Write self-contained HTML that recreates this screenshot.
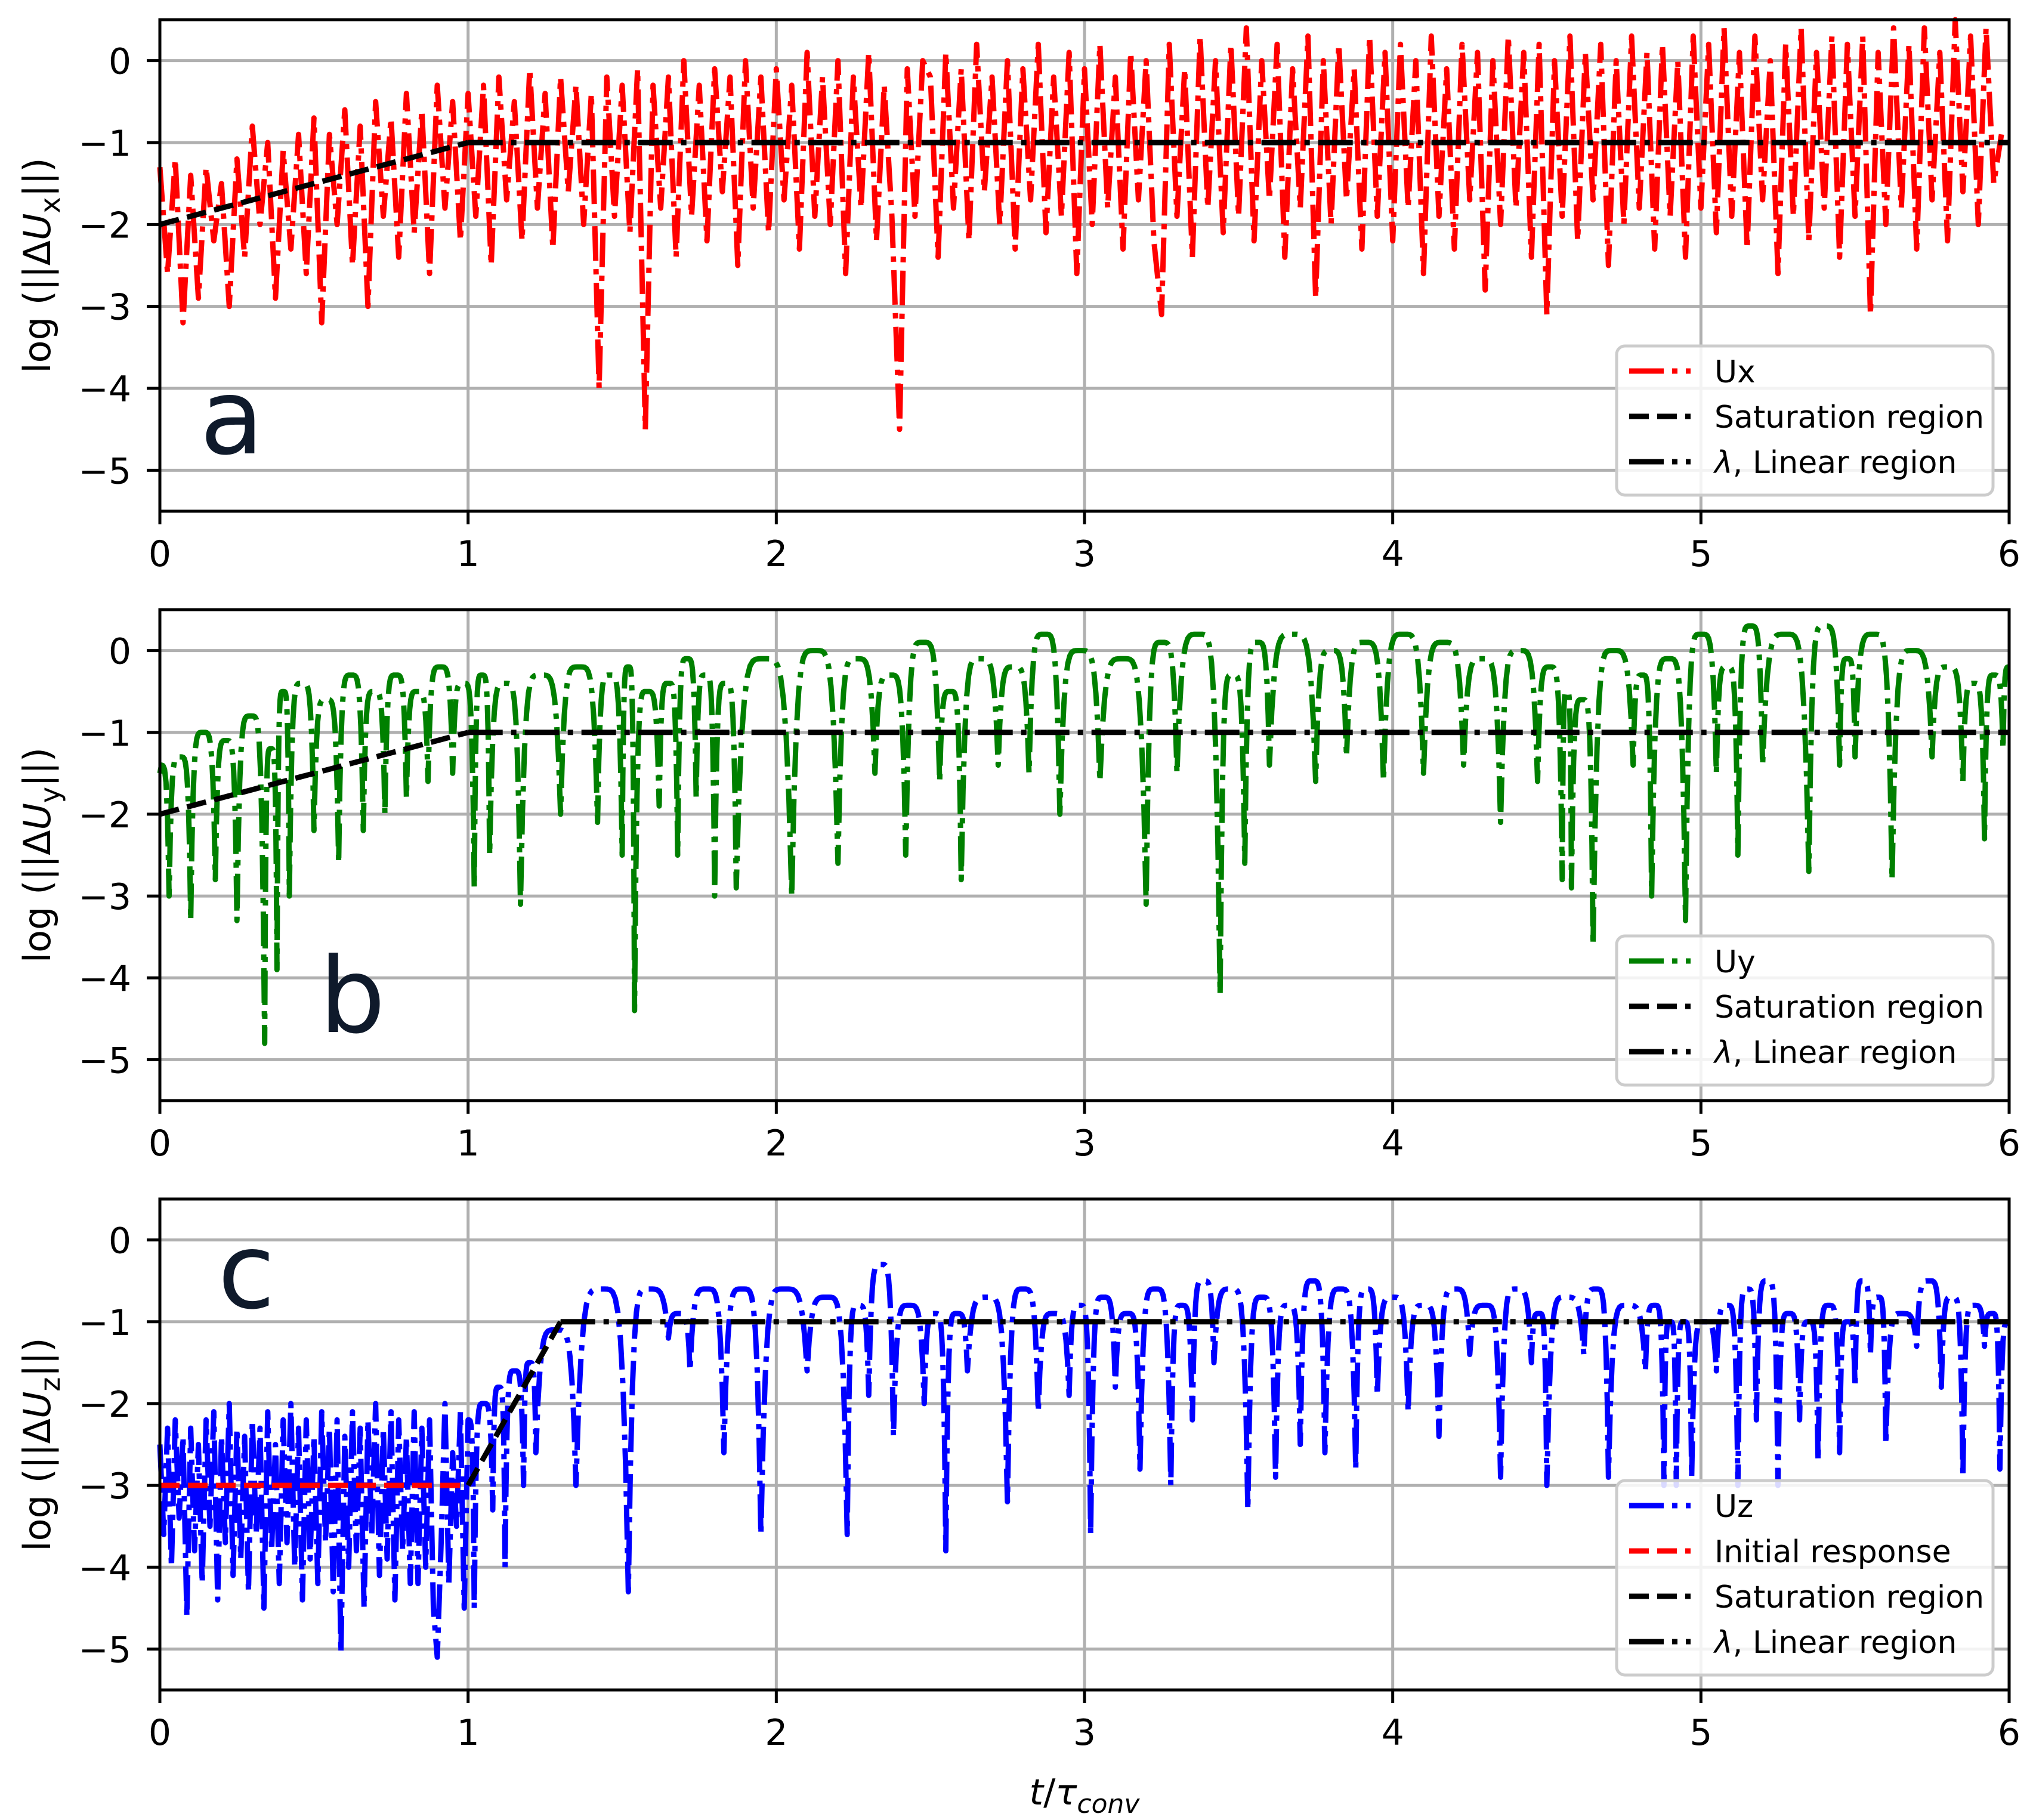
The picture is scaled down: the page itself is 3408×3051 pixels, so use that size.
<!DOCTYPE html>
<html><head><meta charset="utf-8"><style>
html,body{margin:0;padding:0;background:#fff}
svg{display:block}
text{font-family:"DejaVu Sans","Liberation Sans",sans-serif}
</style></head><body>
<svg id="fig" width="3408" height="3051" viewBox="0 0 3408 3051" xmlns="http://www.w3.org/2000/svg"></svg>
<script>
// ---- data ----
const xTicks = [0,1,2,3,4,5,6];
const yTicks = [0,-1,-2,-3,-4,-5];
const yTickLabels = ["0","\u22121","\u22122","\u22123","\u22124","\u22125"];
const redStep = 0.025;
const redVals = [
-1.3,-2.6,-1.2,-3.2,-1.4,-2.9,-1.3,-2.2,-1.5,-3.0,-1.2,-2.4,-0.8,-2.0,-1.0,-2.9,-1.1,-2.3,-0.9,-2.6,
-0.7,-3.2,-0.9,-2.0,-0.6,-2.5,-0.8,-3.0,-0.5,-1.9,-0.7,-2.4,-0.4,-2.1,-0.6,-2.6,-0.3,-1.8,-0.5,-2.2,
-0.4,-1.9,-0.3,-2.5,-0.2,-1.7,-0.5,-2.2,-0.1,-1.8,-0.4,-2.3,-0.2,-1.6,-0.3,-2.0,-0.4,-4.0,-0.2,-1.9,
-0.3,-2.1,-0.1,-4.5,-0.3,-1.8,-0.2,-2.4,0.0,-1.9,-0.3,-2.2,-0.1,-1.6,-0.2,-2.5,0.0,-1.8,-0.2,-2.1,
-0.1,-1.7,-0.3,-2.3,0.1,-1.9,-0.2,-2.0,0.0,-2.6,-0.2,-1.8,0.1,-2.2,-0.3,-1.9,-4.5,-0.1,-1.9,0.0,
-0.2,-2.4,0.1,-1.8,-0.1,-2.2,0.2,-1.6,-0.2,-2.0,0.0,-2.3,-0.1,-1.7,0.2,-2.1,-0.2,-1.9,0.1,-2.6,
-0.1,-2.0,0.2,-1.8,-0.2,-2.3,0.1,-1.7,0.0,-2.2,-3.1,0.2,-1.9,-0.1,-2.4,0.3,-1.8,0.0,-2.1,0.2,
-1.9,0.4,-2.2,0.0,-1.7,0.2,-2.4,-0.1,-1.8,0.3,-2.9,0.0,-2.0,0.2,-1.7,-0.1,-2.3,0.3,-1.9,0.1,
-2.2,0.2,-1.8,0.0,-2.6,0.3,-1.9,-0.1,-2.3,0.2,-1.7,0.1,-2.8,0.0,-2.0,0.3,-1.8,0.1,-2.4,0.2,
-3.1,0.0,-1.9,0.3,-2.2,0.1,-1.7,0.2,-2.5,0.0,-2.0,0.3,-1.8,0.1,-2.3,0.2,-1.9,0.0,-2.4,0.3,
-1.8,0.2,-2.1,0.4,-1.9,0.1,-2.3,0.3,-1.7,0.0,-2.6,0.2,-1.9,0.4,-2.2,0.1,-1.8,0.3,-2.4,0.2,
-1.9,0.3,-3.1,0.1,-2.0,0.4,-1.8,0.2,-2.3,0.4,-1.7,0.1,-2.2,0.5,-1.6,0.3,-2.0,0.4,-1.5,-0.9];
const greenStart = [0, -1.5];
const greenDipT = [0.03,0.1,0.18,0.25,0.34,0.38,0.42,0.5,0.58,0.66,0.73,0.8,0.87,0.95,1.02,1.07,1.17,1.3,1.42,1.5,1.54,1.62,1.68,1.74,1.8,1.87,2.05,2.2,2.32,2.42,2.53,2.6,2.72,2.82,2.92,3.05,3.2,3.3,3.44,3.52,3.6,3.75,3.85,3.97,4.1,4.23,4.35,4.47,4.55,4.58,4.65,4.78,4.84,4.95,5.05,5.12,5.2,5.35,5.45,5.5,5.62,5.75,5.85,5.92,5.98];
const greenDipV = [-3.0,-3.3,-2.8,-3.3,-4.8,-3.9,-3.0,-2.2,-2.6,-2.2,-2.0,-1.8,-1.6,-1.5,-2.9,-2.5,-3.1,-2.0,-2.1,-2.5,-4.4,-1.9,-2.5,-1.8,-3.0,-2.9,-3.0,-2.6,-1.5,-2.5,-1.6,-2.8,-1.4,-1.5,-2.0,-1.6,-3.1,-1.5,-4.2,-2.6,-1.4,-1.6,-1.3,-1.6,-1.5,-1.4,-2.1,-1.6,-2.8,-2.9,-3.6,-1.4,-3.0,-3.3,-1.5,-2.5,-1.4,-2.7,-1.4,-1.3,-2.8,-1.3,-1.6,-2.3,-1.2];
const greenPeak = [-1.4,-1.3,-1.0,-1.1,-0.8,-1.2,-0.5,-0.4,-0.6,-0.3,-0.5,-0.3,-0.5,-0.2,-0.4,-0.3,-0.4,-0.3,-0.2,-0.3,
-0.2,-0.5,-0.4,-0.1,-0.3,-0.4,-0.1,0.0,-0.1,-0.3,0.1,-0.5,-0.1,-0.2,0.2,0.0,-0.1,0.1,0.2,-0.3,
0.1,0.2,0.0,0.1,0.2,0.1,-0.1,0.0,-0.2,-0.5,-0.6,0.0,-0.3,-0.1,0.2,-0.2,0.3,0.2,0.3,-0.1,
0.2,0.0,-0.2,-0.4,-0.3,-0.2];
const blueStep = 0.0125;
const blueNoise = [
-2.5,-3.6,-2.3,-4.0,-2.2,-3.4,-2.4,-4.6,-2.3,-3.8,-2.5,-4.2,-2.2,-3.5,-2.1,-4.4,-2.4,-3.7,-2.0,-4.1,
-2.3,-3.9,-2.4,-4.3,-2.2,-3.6,-2.3,-4.5,-2.1,-3.8,-2.5,-4.2,-2.2,-3.7,-2.0,-4.0,-2.3,-4.4,-2.2,-3.9,
-2.4,-4.2,-2.1,-3.7,-2.3,-4.3,-2.2,-5.05,-2.4,-4.0,-2.1,-3.8,-2.3,-4.5,-2.2,-3.6,-2.0,-4.1,-2.3,-3.9,
-2.1,-4.4,-2.2,-3.8,-2.4,-4.2,-2.1,-4.2,-2.3,-4.0,-2.2,-4.5,-5.1,-3.7,-2.0,-4.2,-2.6,-3.5,-2.1,-4.5];
const blueStart = [1.0, -2.2];
const blueDipT = [1.02,1.08,1.12,1.18,1.22,1.35,1.52,1.65,1.72,1.83,1.95,2.1,2.23,2.3,2.38,2.48,2.55,2.62,2.75,2.85,2.95,3.02,3.1,3.18,3.28,3.35,3.42,3.53,3.62,3.7,3.78,3.88,3.95,4.05,4.15,4.25,4.35,4.45,4.5,4.62,4.7,4.82,4.88,4.92,4.97,5.05,5.12,5.18,5.25,5.32,5.38,5.45,5.5,5.55,5.6,5.7,5.78,5.85,5.92,5.97];
const blueDipV = [-4.5,-3.3,-4.0,-3.0,-2.6,-3.0,-4.3,-1.2,-1.6,-2.6,-3.6,-1.6,-3.6,-1.9,-2.4,-2.0,-3.8,-1.6,-3.2,-2.1,-1.9,-3.6,-1.8,-2.8,-3.0,-2.2,-1.5,-3.3,-2.9,-2.5,-2.6,-2.8,-1.9,-2.1,-2.4,-1.4,-2.9,-1.5,-3.0,-1.4,-2.9,-1.6,-3.0,-3.0,-2.9,-1.6,-3.0,-2.2,-3.0,-2.2,-2.7,-2.6,-1.8,-1.4,-2.5,-1.3,-1.8,-2.9,-1.3,-2.8];
const bluePeak = [-2.2,-2.0,-1.8,-1.6,-1.5,-1.1,-0.6,-0.6,-0.9,-0.6,-0.6,
-0.6,-0.7,-0.8,-0.3,-0.8,-0.9,-0.9,-0.7,-0.6,-0.9,
-0.8,-0.7,-0.9,-0.6,-0.8,-0.5,-0.6,-0.7,-0.8,-0.5,
-0.6,-0.6,-0.7,-0.8,-0.6,-0.8,-0.6,-0.9,-0.7,-0.6,
-0.8,-0.8,-1.0,-1.0,-1.0,-0.8,-0.6,-0.5,-0.9,-1.0,
-0.8,-1.0,-0.5,-0.7,-0.9,-0.5,-0.7,-0.8,-0.9,-1.0];
const satAB = [[0,-2],[1,-1]];
const linAB = [[1,-1],[6,-1]];
const initC = [[0,-3],[1,-3]];
const satC = [[1,-3],[1.3,-1]];
const linC = [[1.3,-1],[6,-1]];

// ---- layout ----
const NS="http://www.w3.org/2000/svg";
const svg=document.getElementById('fig');
const X0=268,X1=3368,XMIN=0,XMAX=6,YMIN=-5.5,YMAX=0.5;
const panels=[{top:33,bot:857},{top:1022,bot:1845},{top:2010,bot:2833}];
function el(tag,attrs,parent){const e=document.createElementNS(NS,tag);for(const k in attrs)e.setAttribute(k,attrs[k]);(parent||svg).appendChild(e);return e;}
function sx(t){return X0+(t-XMIN)/(XMAX-XMIN)*(X1-X0);}
function syF(p){return v=>p.top+(YMAX-v)/(YMAX-YMIN)*(p.bot-p.top);}
const LW=9, DD="58 14 9 14", DS="33 14";

function drawAxes(p,idx){
  const sy=syF(p);
  const g=el('g',{});
  
  
  xTicks.forEach(t=>{const l=el('line',{x1:sx(t),x2:sx(t),y1:p.top,y2:p.bot,stroke:'#b0b0b0','stroke-width':5},g);
    });
  yTicks.forEach(v=>{const l=el('line',{x1:X0,x2:X1,y1:sy(v),y2:sy(v),stroke:'#b0b0b0','stroke-width':5},g);
    });
  return g;
}
function drawFrame(p,idx){
  const sy=syF(p);
  const g=el('g',{});
  
  
  el('rect',{x:X0,y:p.top,width:X1-X0,height:p.bot-p.top,fill:'none',stroke:'#000','stroke-width':5},g);
  xTicks.forEach(t=>{el('line',{x1:sx(t),x2:sx(t),y1:p.bot,y2:p.bot+22,stroke:'#000','stroke-width':5},g);
    const tx=el('text',{x:sx(t),y:p.bot+92,'font-size':60,'text-anchor':'middle'},g);tx.textContent=t;
    });
  yTicks.forEach((v,i)=>{el('line',{x1:X0-22,x2:X0,y1:sy(v),y2:sy(v),stroke:'#000','stroke-width':5},g);
    const tx=el('text',{x:220,y:sy(v)+22,'font-size':60,'text-anchor':'end'},g);tx.textContent=yTickLabels[i];
    });
}
function polyline(pts,p,color,dash,name){
  const sy=syF(p);
  const d=pts.map((q,i)=>(i?'L':'M')+sx(q[0]).toFixed(1)+' '+sy(q[1]).toFixed(1)).join('');
  const e=el('path',{d:d,fill:'none',stroke:color,'stroke-width':LW,'stroke-dasharray':dash,'stroke-linejoin':'round'});
  
  
  return e;
}
function archPoints(start,dT,dV,pk,tEnd){
  const pts=[[start[0],start[1]]];
  let prevT=start[0],prevV=start[1];
  const seg=(ta,va,tb,vb,p)=>{
    const tm=(ta+tb)/2,N=10;
    for(let k=1;k<=N;k++){const u=k/N;const t=ta+(tm-ta)*u;pts.push([t,p-(p-va)*Math.pow(1-u,5)]);}
    for(let k=1;k<=N;k++){const u=k/N;const t=tm+(tb-tm)*u;pts.push([t,p-(p-vb)*Math.pow(u,5)]);}
  };
  for(let i=0;i<dT.length;i++){
    if(i===0){const tm=dT[0];for(let k=1;k<=6;k++){const u=k/6;pts.push([prevT+(tm-prevT)*u,pk[0]-(pk[0]-dV[0])*Math.pow(u,5)]);}}
    else seg(prevT,prevV,dT[i],dV[i],pk[i]);
    prevT=dT[i];prevV=dV[i];
  }
  const last=pk[dT.length];
  for(let k=1;k<=6;k++){const u=k/6;pts.push([prevT+(tEnd-prevT)*u,last-(last-prevV)*Math.pow(1-u,5)]);}
  return pts;
}
function legend(p,x,y,h,entries,idx){
  const g=el('g',{});
  
  
  el('rect',{x:x,y:y,width:631,height:h,rx:14,fill:'rgba(255,255,255,0.85)',stroke:'#cccccc','stroke-width':5},g);
  entries.forEach((e,i)=>{
    const cy=y+42+i*76;
    const ln=el('line',{x1:x+21,x2:x+124,y1:cy,y2:cy,stroke:e.c,'stroke-width':LW,'stroke-dasharray':e.d},g);
    
    const tx=el('text',{x:x+164,y:cy+19,'font-size':52},g);
    
    if(e.lam){const s=document.createElementNS(NS,'tspan');s.setAttribute('font-style','italic');s.textContent='\u03bb';tx.appendChild(s);tx.appendChild(document.createTextNode(', Linear region'));}
    else tx.textContent=e.t;
  });
}
function ylabel(p,sub){
  const cy=(p.top+p.bot)/2;
  const tx=el('text',{x:0,y:0,'font-size':62,'text-anchor':'middle',transform:`translate(84 ${cy}) rotate(-90)`});
  
  
  tx.innerHTML='log (||\u0394<tspan font-style="italic">U</tspan><tspan font-size="46" dy="16">'+sub+'</tspan><tspan dy="-16">||)</tspan>';
}
function letter(s,x,y){
  const t=el('text',{x:x,y:y,'font-size':175,fill:'#0f1a2b'});
  
  
  t.textContent=s;
}

let p=panels[0];
drawAxes(p,0);
polyline(redVals.map((v,i)=>[i*redStep,v]),p,'#ff0000',DD,'series-ux');
polyline(satAB,p,'#000',DS,'saturation-line-a');
polyline(linAB,p,'#000',DD,'linear-line-a');
drawFrame(p,0);
legend(p,2710,580,250,[{c:'#ff0000',d:DD,t:'Ux'},{c:'#000',d:DS,t:'Saturation region'},{c:'#000',d:DD,lam:1}],0);
ylabel(p,'x');letter('a',335,760);

p=panels[1];
drawAxes(p,1);
polyline(archPoints(greenStart,greenDipT,greenDipV,greenPeak,6.0),p,'#008000',DD,'series-uy');
polyline(satAB,p,'#000',DS,'saturation-line-b');
polyline(linAB,p,'#000',DD,'linear-line-b');
drawFrame(p,1);
legend(p,2710,1569,250,[{c:'#008000',d:DD,t:'Uy'},{c:'#000',d:DS,t:'Saturation region'},{c:'#000',d:DD,lam:1}],1);
ylabel(p,'y');letter('b',535,1730);

p=panels[2];
drawAxes(p,2);
polyline(blueNoise.map((v,i)=>[i*blueStep,v]).concat(archPoints(blueStart,blueDipT,blueDipV,bluePeak,6.0)),p,'#0000ff',DD,'series-uz');
polyline(initC,p,'#ff0000',DS,'initial-response-line');
polyline(satC,p,'#000',DS,'saturation-line-c');
polyline(linC,p,'#000',DD,'linear-line-c');
drawFrame(p,2);
legend(p,2710,2482,326,[{c:'#0000ff',d:DD,t:'Uz'},{c:'#ff0000',d:DS,t:'Initial response'},{c:'#000',d:DS,t:'Saturation region'},{c:'#000',d:DD,lam:1}],2);
ylabel(p,'z');letter('c',365,2192);

const xt=el('text',{x:1818,y:3025,'font-size':60,'text-anchor':'middle'});


xt.innerHTML='<tspan font-style="italic">t</tspan>/<tspan font-style="italic">\u03c4</tspan><tspan font-style="italic" font-size="44" dy="14">conv</tspan>';
</script>
</body></html>
